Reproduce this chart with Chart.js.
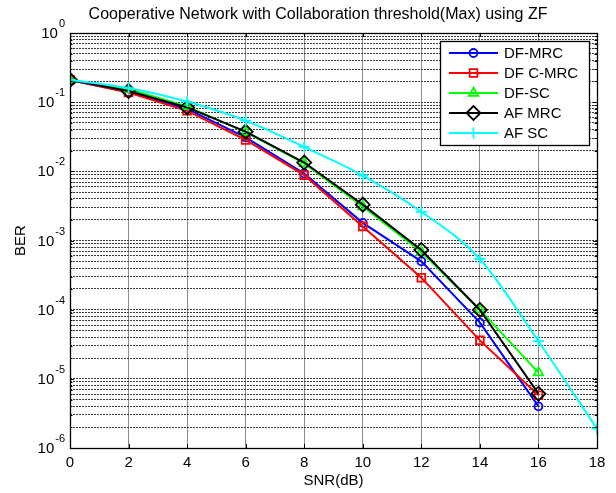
<!DOCTYPE html>
<html>
<head>
<meta charset="utf-8">
<script src="https://cdn.jsdelivr.net/npm/chart.js@4.4.1/dist/chart.umd.min.js"></script>
<style>
html,body{margin:0;padding:0;background:#fff;}
#wrap{width:616px;height:493px;position:relative;}
</style>
</head>
<body>
<div id="wrap"><canvas id="c" width="616" height="493"></canvas></div>
<script>
// ---- data ----
const titleText = 'Cooperative Network with Collaboration threshold(Max) using ZF';
const xLabel = 'SNR(dB)';
const yLabel = 'BER';
const snr = [0, 2, 4, 6, 8, 10, 12, 14, 16];
const snrAF = [0, 2, 4, 6, 8, 10, 12, 14, 16, 18];
const xTicks = [0, 2, 4, 6, 8, 10, 12, 14, 16, 18];
const yDecades = [0, -1, -2, -3, -4, -5, -6];
const seriesNames = ['DF-MRC', 'DF C-MRC', 'DF-SC', 'AF MRC', 'AF SC'];
const dfMrc  = [0.21, 0.14, 0.080, 0.031, 0.0093, 0.0018, 0.00050, 0.000065, 0.0000040];
const dfCMrc = [0.21, 0.138, 0.075, 0.0284, 0.0088, 0.0016, 0.00029, 0.000036, 0.0000058];
const dfSc   = [0.21, 0.155, 0.087, 0.037, 0.0130, 0.0031, 0.00068, 0.000100, 0.0000123];
const afMrc  = [0.21, 0.145, 0.084, 0.0375, 0.0134, 0.0033, 0.00073, 0.000099, 0.0000061];
const afSc   = [0.21, 0.16, 0.102, 0.054, 0.0225, 0.0087, 0.0026, 0.00054, 0.000035, 0.0000019];

const FONT = "'Liberation Sans', Arial, sans-serif";

function pts(xs, ys){ return ys.map((v,i)=>({x:xs[i], y:v})); }

const styles = [
  {color:'#0000ff', style:'circle', radius:4, order:5},
  {color:'#ff0000', style:'rect', radius:5.5, order:4},
  {color:'#00ff00', style:'triangle', radius:5.5, order:3},
  {color:'#000000', style:'rectRot', radius:7, order:2},
  {color:'#00ffff', style:'cross', radius:5.5, order:1}
];
const seriesData = [pts(snr, dfMrc), pts(snr, dfCMrc), pts(snr, dfSc), pts(snr, afMrc), pts(snrAF, afSc)];

const datasets = seriesNames.map((n,i)=>({
  label:n,
  data:seriesData[i],
  borderColor:styles[i].color,
  backgroundColor:styles[i].color,
  borderWidth:2,
  pointStyle:styles[i].style,
  pointRadius:styles[i].radius,
  pointBorderWidth:1.8,
  pointBorderColor:styles[i].color,
  pointBackgroundColor:'rgba(0,0,0,0)',
  order:styles[i].order,
  cubicInterpolationMode: i===4 ? 'monotone' : 'default',
  tension:0,
  fill:false
}));

const framePlugin = {
  id:'frame',
  afterDraw(chart){
    const ctx = chart.ctx;
    const a = chart.chartArea;
    const xs = chart.scales.x, ys = chart.scales.y;
    ctx.save();
    // inner tick marks
    ctx.strokeStyle = '#000'; ctx.lineWidth = 1;
    ctx.beginPath();
    xTicks.forEach(v=>{
      const px = Math.round(xs.getPixelForValue(v))+0.5;
      ctx.moveTo(px, a.bottom); ctx.lineTo(px, a.bottom-4);
      ctx.moveTo(px, a.top); ctx.lineTo(px, a.top+4);
    });
    ys.ticks.forEach(t=>{
      const py = Math.round(ys.getPixelForValue(t.value))+0.5;
      const len = (Math.abs(Math.log10(t.value) - Math.round(Math.log10(t.value)))<1e-9) ? 4 : 2.5;
      ctx.moveTo(a.left, py); ctx.lineTo(a.left+len, py);
      ctx.moveTo(a.right, py); ctx.lineTo(a.right-len, py);
    });
    ctx.stroke();
    // box
    ctx.lineWidth = 1.3;
    ctx.strokeRect(Math.round(a.left)+0.5, Math.round(a.top)+0.5, Math.round(a.right-a.left), Math.round(a.bottom-a.top));
    // y tick labels with superscripts
    ctx.fillStyle = '#000';
    yDecades.forEach(k=>{
      const py = ys.getPixelForValue(Math.pow(10,k));
      const expStr = String(k);
      ctx.font = '11px ' + FONT;
      const ew = ctx.measureText(expStr).width;
      const baseRight = a.left - 6 - ew;
      ctx.font = '15px ' + FONT;
      ctx.textAlign = 'right'; ctx.textBaseline = 'middle';
      ctx.fillText('10', baseRight, py+1);
      ctx.font = '11px ' + FONT;
      ctx.textAlign = 'left';
      ctx.fillText(expStr, baseRight+1, py-9);
    });
    // title
    ctx.font = '16px ' + FONT;
    ctx.textAlign = 'center'; ctx.textBaseline = 'middle';
    ctx.fillText(titleText, 318, 15);
    // legend
    const lx = 440, ly = 41, lw = 149, lh = 104;
    ctx.fillStyle = '#fff';
    ctx.fillRect(lx, ly, lw, lh);
    ctx.strokeStyle = '#000'; ctx.lineWidth = 1.3;
    ctx.strokeRect(lx+0.5, ly+0.5, lw, lh);
    seriesNames.forEach((n,i)=>{
      const y = 53 + i*20;
      ctx.strokeStyle = styles[i].color; ctx.lineWidth = 2;
      ctx.beginPath(); ctx.moveTo(449, y); ctx.lineTo(498, y); ctx.stroke();
      ctx.lineWidth = 1.8;
      ctx.fillStyle = 'rgba(0,0,0,0)';
      Chart.helpers.drawPoint(ctx, {pointStyle:styles[i].style, radius:styles[i].radius, rotation:0, borderWidth:1.8}, 473.5, y);
      ctx.fillStyle = '#000';
      ctx.font = '15px ' + FONT;
      ctx.textAlign = 'left'; ctx.textBaseline = 'middle';
      ctx.fillText(n, 504, y+1);
    });
    ctx.restore();
  }
};

new Chart(document.getElementById('c'), {
  type:'line',
  data:{datasets},
  options:{
    responsive:false,
    animation:false,
    devicePixelRatio:1,
    layout:{padding:{top:33, right:19, bottom:0, left:0}},
    plugins:{legend:{display:false}, tooltip:{enabled:false}, title:{display:false}},
    scales:{
      x:{
        type:'linear', min:0, max:18,
        afterBuildTicks(s){ s.ticks = xTicks.map(v=>({value:v})); },
        afterFit(s){ s.height = 45; },
        ticks:{font:{family:FONT, size:15}, color:'#000', padding:6, maxRotation:0, autoSkip:false},
        grid:{color:'#8c8c8c', lineWidth:1, drawTicks:false},
        border:{display:false},
        title:{display:true, text:xLabel, font:{family:FONT, size:15}, color:'#000', padding:{top:2, bottom:3}}
      },
      y:{
        type:'logarithmic', min:1e-6, max:1,
        afterBuildTicks(s){
          const t = [];
          for (let k=-6;k<0;k++){ for (let m=1;m<10;m++){ t.push({value:m*Math.pow(10,k)}); } }
          t.push({value:1});
          s.ticks = t;
        },
        afterFit(s){ s.width = 70; },
        ticks:{callback:()=> '', autoSkip:false, font:{family:FONT, size:14}},
        grid:{color:'#3a3a3a', lineWidth:1, drawTicks:false},
        border:{display:false, dash:[2,1]},
        title:{display:true, text:yLabel, font:{family:FONT, size:15}, color:'#000', padding:{top:12, bottom:0}}
      }
    }
  },
  plugins:[framePlugin]
});
</script>
</body>
</html>
